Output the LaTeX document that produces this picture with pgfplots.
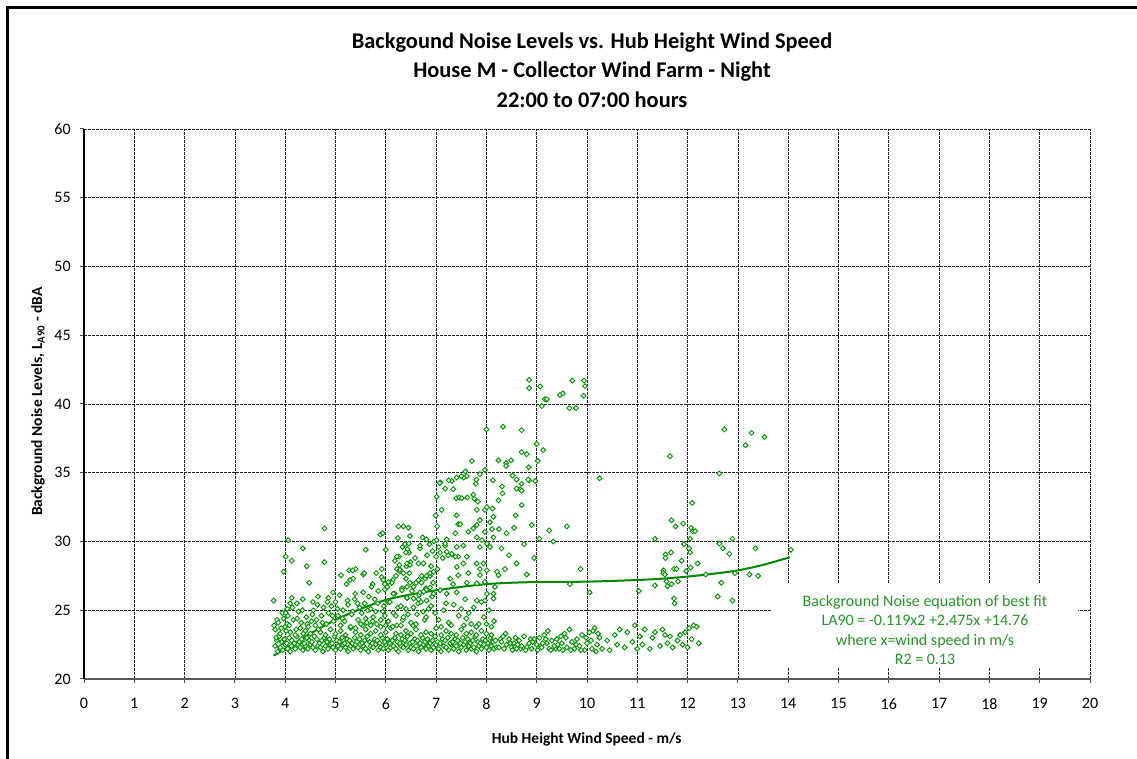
\documentclass[border=0pt]{standalone}
\usepackage{fontspec}
\setmainfont{Carlito}
\usepackage{pgfplots}
\pgfplotsset{compat=1.18}
\definecolor{mygreen}{RGB}{0,150,0}
\definecolor{curvegreen}{RGB}{0,135,0}
\definecolor{textgreen}{RGB}{40,150,40}
\begin{document}
\begin{tikzpicture}
\useasboundingbox (0,0) rectangle (852.75pt,569.25pt);
\draw[black,line width=2.25pt] (5.25pt,0) -- (5.25pt,563.25pt) -- (852.75pt,563.25pt);
\node[font=\fontsize{16.8}{19}\selectfont\bfseries] at (444pt,537pt) {Backgound Noise Levels vs. Hub Height Wind Speed};
\node[font=\fontsize{16.8}{19}\selectfont\bfseries] at (444pt,515.25pt) {House M - Collector Wind Farm - Night};
\node[font=\fontsize{16.8}{19}\selectfont\bfseries] at (444pt,494.25pt) {22:00 to 07:00 hours};
\node[font=\fontsize{11.6}{13}\selectfont\bfseries,rotate=90] at (28.5pt,268pt) {Background Noise Levels, L\textsubscript{A90} - dBA};
\node[font=\fontsize{11.6}{13}\selectfont\bfseries] at (440pt,15pt) {Hub Height Wind Speed - m/s};
\begin{axis}[
  at={(63pt,60pt)}, anchor=south west,
  width=754.5pt, height=412.5pt, scale only axis,
  xmin=0, xmax=20, ymin=20, ymax=60,
  xtick={0,1,...,20}, ytick={20,25,...,60},
  axis x line*=bottom, axis y line*=left,
  x axis line style={-, draw=black!65, line width=1.5pt},
  y axis line style={-, draw=black, line width=1pt},
  grid=major,
  major grid style={black!85, line width=0.5pt, dash pattern=on 2.2pt off 0.8pt},
  tick align=outside, major tick length=3pt,
  tick style={black!70, line width=0.75pt},
  /pgf/number format/assume math mode=true,
  ticklabel style={font=\fontsize{12}{14}\selectfont},
  xticklabel style={yshift=-8pt},
  yticklabel style={xshift=-3.5pt},
  clip=false,
]
\addplot[only marks, mark=square*, mark size=1.3pt, mark options={rotate=45, fill=white, draw=mygreen, line width=0.7pt}] coordinates {
(3.80,22.4)(3.85,22.0)(3.90,22.3)(3.95,22.1)(4.00,22.5)(4.05,22.2)(4.10,22.0)(4.15,22.4)(4.20,22.2)(4.25,22.5)
(4.30,22.3)(4.35,22.1)(4.40,22.4)(4.45,22.2)(4.50,22.5)(4.55,22.3)(4.60,22.1)(4.65,22.4)(4.70,22.3)(4.75,22.0)
(4.80,22.4)(4.85,22.2)(4.90,22.5)(4.95,22.3)(5.00,22.1)(5.05,22.4)(5.10,22.2)(5.15,22.5)(5.20,22.3)(5.25,22.0)
(5.30,22.4)(5.35,22.2)(5.40,22.5)(5.45,22.3)(5.50,22.1)(5.55,22.4)(5.60,22.2)(5.65,22.0)(5.70,22.4)(5.75,22.3)
(5.80,22.5)(5.85,22.1)(5.90,22.3)(5.95,22.2)(6.00,22.5)(6.05,22.1)(6.10,22.3)(6.15,22.4)(6.20,22.2)(6.25,22.0)
(6.30,22.4)(6.35,22.3)(6.40,22.5)(6.45,22.1)(6.50,22.3)(6.55,22.2)(6.60,22.4)(6.65,22.0)(6.70,22.3)(6.75,22.5)
(6.80,22.2)(6.85,22.4)(6.90,22.1)(6.95,22.3)(7.00,22.5)(7.05,22.2)(7.10,22.0)(7.15,22.4)(7.20,22.3)(7.25,22.1)
(7.30,22.5)(7.35,22.2)(7.40,22.4)(7.45,22.0)(7.50,22.3)(7.55,22.5)(7.60,22.1)(7.65,22.4)(7.70,22.2)(7.75,22.3)
(7.80,22.0)(7.85,22.4)(7.90,22.2)(7.95,22.5)(8.00,22.3)(8.05,22.1)(8.10,22.4)(8.15,22.2)(8.20,22.3)
(3.83,22.8)(3.88,23.1)(3.93,22.7)(3.98,22.9)(4.03,22.6)(4.08,23.0)(4.13,22.8)(4.18,22.6)(4.23,23.1)(4.28,22.7)
(4.33,22.9)(4.38,22.6)(4.43,23.0)(4.48,22.8)(4.53,22.7)(4.58,23.1)(4.63,22.9)(4.68,22.6)(4.73,22.8)(4.78,23.0)
(4.83,22.7)(4.88,22.9)(4.93,22.6)(4.98,23.1)(5.03,22.8)(5.08,22.7)(5.13,23.0)(5.18,22.6)(5.23,22.9)(5.28,22.8)
(5.33,22.6)(5.38,23.0)(5.43,22.7)(5.48,22.9)(5.53,22.6)(5.58,22.8)(5.63,23.1)(5.68,22.7)(5.73,22.6)(5.78,22.9)
(5.83,22.8)(5.88,22.6)(5.93,23.0)(5.98,22.7)(6.03,22.9)(6.08,22.6)(6.13,22.8)(6.18,23.0)(6.23,22.7)(6.28,22.6)
(6.33,22.9)(6.38,22.8)(6.43,23.1)(6.48,22.6)(6.53,22.7)(6.58,22.9)(6.63,22.8)(6.68,22.6)(6.73,23.0)(6.78,22.7)
(6.83,22.9)(6.88,22.6)(6.93,22.8)(6.98,23.1)(7.03,22.7)(7.08,22.6)(7.13,22.9)(7.18,22.8)(7.23,23.0)(7.28,22.6)
(7.33,22.7)(7.38,22.9)(7.43,22.8)(7.48,22.6)(7.53,23.0)(7.58,22.7)(7.63,22.9)(7.68,22.6)(7.73,22.8)(7.78,23.1)
(7.83,22.7)(7.88,22.6)(7.93,22.9)(7.98,22.8)(8.03,22.6)(8.08,23.0)(8.13,22.7)(8.18,22.8)
(3.80,23.6)(3.90,23.3)(4.00,23.8)(4.10,23.4)(4.20,23.2)(4.30,23.7)(4.40,23.5)(4.50,23.3)(4.60,23.9)(4.70,23.4)
(4.80,23.2)(4.90,23.6)(5.00,23.3)(5.10,23.5)(5.20,23.2)(5.30,23.7)(5.40,23.4)(5.50,23.2)(5.60,23.6)(5.70,23.3)
(5.80,23.5)(5.90,23.2)(6.00,23.4)(6.10,23.7)(6.20,23.3)(6.30,23.2)(6.40,23.5)(6.50,23.3)(6.60,23.6)(6.70,23.2)
(6.80,23.4)(6.90,23.3)(7.00,23.7)(7.10,23.2)(7.20,23.5)(7.30,23.3)(7.40,23.2)(7.50,23.6)(7.60,23.3)(7.70,23.4)
(7.80,23.2)(7.90,23.5)(8.00,23.3)(8.10,23.2)
(3.84,24.3)(3.94,24.8)(4.04,24.0)(4.14,25.2)(4.24,24.4)(4.34,25.0)(4.44,24.0)(4.54,24.7)(4.64,25.4)(4.74,24.1)
(4.84,25.6)(4.94,24.6)(5.04,25.1)(5.14,24.4)(5.24,25.7)(5.34,24.9)(5.44,25.5)(5.54,23.9)(5.64,25.0)(5.74,24.2)
(5.84,25.5)(5.94,24.9)(6.04,25.6)(6.14,23.8)(6.24,25.2)(6.34,24.3)(6.44,24.7)(6.54,23.9)(6.64,25.5)(6.74,24.9)
(8.28,22.9)(8.38,23.3)(8.48,22.6)(8.58,23.0)(8.68,22.2)(8.88,22.9)(9.08,22.4)(9.18,22.9)(9.38,22.2)(9.48,23.1)
(8.25,22.3)(8.30,22.7)(8.35,22.2)(8.40,22.5)(8.45,22.9)(8.50,22.3)(8.55,22.6)(8.60,22.2)(8.65,22.8)(8.70,22.4)
(8.75,23.1)(8.80,22.3)(8.85,22.6)(8.90,22.2)(8.95,22.9)(9.00,22.5)(9.05,23.0)(9.10,22.3)(9.15,23.2)(9.20,22.6)
(9.25,22.2)(9.30,22.8)(9.35,22.4)(9.40,22.9)(9.45,22.2)(9.50,22.6)(9.55,23.3)(9.60,22.3)(9.65,23.6)(9.70,22.7)
(9.75,22.2)(9.80,22.9)(9.85,22.4)(9.90,23.2)(9.95,22.1)(10.00,22.6)(10.05,23.4)(10.10,22.2)(10.15,23.7)(10.20,22.5)
(10.25,23.0)(10.30,22.2)
(8.33,23.1)(8.52,22.1)(8.62,22.5)(8.78,22.1)(8.92,22.7)(9.02,22.1)(9.12,22.6)(9.22,23.5)(9.28,22.1)(9.42,22.5)
(9.52,22.1)(9.58,23.0)(9.68,22.1)(9.78,22.5)(9.88,22.1)(9.98,23.0)(10.08,22.8)(10.12,23.5)(10.18,22.0)(10.22,23.3)
(10.40,22.8)(10.45,22.1)(10.55,23.2)(10.60,22.5)(10.65,23.6)(10.75,22.3)(10.80,23.4)(10.90,22.7)(10.95,23.9)(11.00,22.2)
(11.05,23.1)(11.10,22.5)(11.15,23.6)(11.25,22.2)(11.30,23.0)(11.35,23.4)(11.45,22.4)(11.50,23.6)(11.55,23.2)(11.60,22.6)
(11.65,23.1)(11.70,22.3)(11.80,22.8)(11.85,23.2)(11.90,22.5)(11.95,23.4)(12.00,22.3)(12.03,23.7)(12.08,22.9)(12.12,23.9)
(12.18,23.8)(12.22,22.6)
(3.78,23.9)(3.82,23.0)(3.86,24.1)(3.92,23.7)(3.97,24.4)(4.02,23.5)(4.05,24.6)(4.08,23.9)(4.12,22.4)(4.16,24.3)
(4.22,23.6)(4.26,24.9)(4.32,24.1)(4.36,23.3)(4.42,24.5)(4.46,23.8)(4.52,24.2)(4.56,25.0)(4.62,24.3)(4.66,23.6)
(4.72,24.6)(4.76,25.2)(4.82,24.0)(4.86,24.8)(4.92,25.3)(4.96,24.2)
(3.77,25.7)(3.97,27.8)(4.01,28.9)(4.06,30.1)(4.13,28.6)(4.13,25.9)(4.23,25.5)(4.04,25.1)(4.01,24.8)(4.35,29.5)
(4.43,28.2)(4.48,27.0)(4.78,30.95)(4.78,28.5)(4.86,25.9)(4.10,25.5)(4.55,25.6)(4.65,26.0)(4.35,25.8)(4.95,26.3)
(5.00,25.6)(5.05,24.6)(5.08,26.1)(5.11,27.55)(5.15,25.0)(5.18,24.2)(5.22,26.9)(5.25,25.4)(5.29,27.2)(5.32,24.7)
(5.35,27.3)(5.38,25.8)(5.39,26.2)(5.40,28.0)(5.45,24.3)(5.48,25.2)(5.52,24.8)(5.55,27.6)(5.55,26.3)(5.58,25.5)
(5.60,29.4)(5.62,24.1)(5.66,26.0)(5.70,25.1)(5.74,26.9)(5.75,24.5)(5.78,25.8)(5.82,24.0)(5.85,26.4)(5.89,30.5)
(5.92,27.4)(5.92,28.0)(5.94,30.6)(5.96,25.3)(5.98,24.6)(5.10,23.9)(5.30,23.8)(5.50,24.0)(5.70,23.9)(5.90,23.8)
(5.27,27.9)(5.34,27.9)(5.57,27.7)(5.81,27.7)(5.72,26.7)(5.98,26.9)
(6.00,29.4)(6.03,26.7)(6.05,24.2)(6.08,25.6)(6.12,27.0)(6.14,27.2)(6.15,24.8)(6.18,26.2)(6.20,27.5)(6.22,23.9)
(6.25,31.1)(6.26,28.9)(6.28,27.8)(6.30,25.3)(6.32,26.6)(6.35,31.1)(6.35,24.5)(6.38,29.8)(6.40,27.3)(6.41,28.2)
(6.43,25.9)(6.45,31.0)(6.46,29.2)(6.47,27.7)(6.49,28.5)(6.50,24.1)(6.52,26.4)(6.55,25.2)(6.58,28.8)(6.60,27.0)
(6.62,24.7)(6.65,28.4)(6.66,26.1)(6.68,29.5)(6.70,25.6)(6.71,27.5)(6.73,30.3)(6.75,28.4)(6.77,24.3)(6.78,27.3)
(6.80,26.6)(6.82,29.0)(6.85,25.1)(6.88,27.5)(6.90,28.2)(6.92,26.0)(6.94,27.0)(6.96,30.0)(6.98,24.8)
(6.99,31.9)(7.01,33.25)(7.02,31.1)(7.08,34.3)(7.01,30.1)(7.05,29.6)(7.00,28.9)
(7.58,35.1)(7.61,34.75)(7.55,34.65)(7.50,34.75)(7.41,34.65)(7.31,34.4)(7.25,34.45)(7.18,33.85)(7.07,34.25)(7.11,32.3)
(7.34,33.8)(7.40,33.15)(7.46,33.2)(7.51,33.15)(7.62,33.2)(7.74,33.4)(7.83,32.9)(7.76,33.1)(7.71,35.85)(7.97,35.2)
(7.87,34.9)(7.80,34.5)(7.79,34.2)(7.97,32.3)(8.12,32.4)(8.13,34.45)(8.00,38.15)(8.33,38.35)(8.70,38.1)
(7.81,32.3)(8.01,32.5)(8.14,31.8)(8.07,31.4)(8.11,30.9)(8.25,30.9)(7.97,30.7)(7.87,31.55)(7.81,31.2)(7.74,30.95)
(7.81,30.3)(7.91,30.1)(8.01,29.85)(7.87,29.6)(7.64,30.7)(7.41,31.9)(7.44,31.25)(7.48,31.25)(7.38,30.6)(7.21,30.15)
(7.18,29.7)(7.41,29.6)(7.54,29.7)(7.31,29.1)(7.24,29.0)(7.44,28.9)(7.61,28.9)(7.81,28.4)(7.94,28.4)(8.07,29.6)
(8.14,30.3)(8.01,27.9)(7.87,27.55)(8.21,27.8)(8.37,28.0)(8.24,27.55)(8.17,26.7)(8.14,26.2)(8.14,25.85)(7.97,25.7)
(6.68,29.7)(6.81,30.15)(6.87,29.8)(6.93,29.3)(7.08,29.2)(7.13,28.8)(7.21,29.25)(7.18,29.85)(7.38,28.9)(7.41,28.15)
(7.54,28.4)(7.64,27.7)(7.87,28.0)(7.44,27.55)(7.28,27.3)(7.34,26.9)(7.61,27.0)(7.81,26.95)(7.97,27.05)(8.01,26.2)
(7.81,25.7)(7.58,25.8)(7.41,26.3)(7.21,26.2)(7.08,26.45)(6.95,26.2)(6.81,25.7)(6.65,25.8)(6.55,25.85)(6.42,25.9)
(6.24,30.25)(6.48,30.4)(6.46,29.85)(6.43,29.45)(6.33,29.6)(6.40,29.2)(6.22,28.9)(6.18,28.6)(6.27,28.3)(6.42,28.4)
(6.48,28.3)(6.22,28.0)(6.28,27.95)(6.35,27.7)(6.12,27.0)(6.05,27.05)(5.95,27.2)(5.98,26.5)(6.15,26.2)(6.32,26.45)
(6.42,26.7)(6.48,27.0)(6.55,26.7)(6.65,27.2)(6.71,27.0)(6.68,26.3)(6.75,26.35)(6.81,26.5)(6.88,26.65)(6.81,27.5)
(6.88,27.7)(6.95,27.8)(7.03,28.0)
(7.05,24.3)(7.15,25.0)(7.25,24.1)(7.35,25.4)(7.45,24.6)(7.55,23.9)(7.65,24.8)(7.75,25.2)(7.85,24.0)(7.95,24.5)
(8.05,25.0)(8.15,24.2)(7.10,23.8)(7.30,23.9)(7.50,25.1)(7.70,24.0)(7.90,25.6)(8.10,23.8)(7.20,25.5)(7.60,24.4)
(7.80,23.8)(8.00,24.0)(5.40,23.7)(5.60,24.4)(5.80,24.9)(6.00,23.9)(6.20,24.6)(6.40,25.1)(6.60,24.0)(6.80,24.5)
(6.90,25.3)(6.30,23.9)(5.90,24.3)
(8.24,35.9)(8.39,35.7)(8.39,35.5)(8.49,35.9)(8.70,36.5)(8.80,36.35)(9.02,35.85)(8.84,35.4)(8.97,34.4)(8.52,34.8)
(8.60,34.5)(8.70,34.2)(8.67,33.8)(8.60,33.85)(8.85,34.45)(8.70,32.65)(8.58,31.9)(8.31,34.0)(8.24,33.0)(8.32,33.5)
(9.00,37.1)(9.13,36.65)(8.83,34.5)(8.70,33.7)
(8.30,29.5)(8.40,30.6)(8.45,29.0)(8.55,31.0)(8.60,28.4)(8.75,29.8)(8.80,27.6)(8.90,31.2)(8.95,28.8)(9.05,30.2)
(9.25,30.8)(9.60,31.1)(9.33,30.0)(10.25,34.6)(10.05,26.3)(9.87,28.0)(9.66,26.9)(11.03,26.4)
(8.85,41.75)(8.85,41.15)(9.07,41.27)(9.16,40.35)(9.20,40.35)(9.10,39.85)(9.46,40.65)(9.52,40.77)(9.71,41.7)(9.94,41.7)
(9.96,41.3)(9.93,40.6)(9.65,39.7)(9.78,39.7)
(11.65,36.2)(12.73,38.15)(13.27,37.9)(13.53,37.6)(13.15,37.0)(12.63,34.95)
(11.35,30.2)(11.35,26.8)(11.68,31.55)(11.76,31.1)(11.91,31.3)(12.09,32.8)(12.07,31.0)(12.10,30.75)(12.15,30.75)(12.05,30.2)
(11.93,29.8)(11.67,29.2)(11.56,29.05)(11.56,28.8)(11.88,28.6)(12.03,29.5)(12.05,29.2)(12.20,28.4)(11.73,28.0)(11.78,28.0)
(11.97,27.85)(12.06,28.1)(11.52,27.9)(11.52,27.7)(11.55,27.6)(11.58,27.1)(11.60,26.75)(11.68,26.9)(11.81,27.1)(11.73,25.85)
(11.74,25.5)(12.36,27.6)(12.67,27.0)(12.60,26.0)(12.89,25.7)(12.63,29.85)(12.70,29.5)(12.83,29.1)(12.89,30.2)(12.94,27.7)
(13.23,27.6)(13.40,27.5)(13.35,29.5)(14.05,29.4)
};
\addplot[curvegreen, line width=1.5pt, smooth] coordinates {
(3.77,21.7)(4,22.2)(4.5,23.3)(5,24.3)(5.5,25.1)(6,25.75)(6.5,26.15)(7,26.45)(7.5,26.7)(8,26.9)
(8.5,27.0)(9,27.05)(10,27.08)(11,27.2)(11.5,27.3)(12,27.45)(12.5,27.65)(13,27.9)(13.5,28.3)(14.03,28.85)
};
\node[fill=white, minimum width=229.5pt, minimum height=63pt, inner sep=0pt] at (axis cs:16.72,23.93) {};
\node[text=textgreen, align=center, font=\fontsize{12}{14.5}\selectfont] at (axis cs:16.72,23.56) {Background Noise equation of best fit\\LA90 = -0.119x2 +2.475x +14.76\\where x=wind speed in m/s\\R2 = 0.13};
\end{axis}
\end{tikzpicture}
\end{document}
